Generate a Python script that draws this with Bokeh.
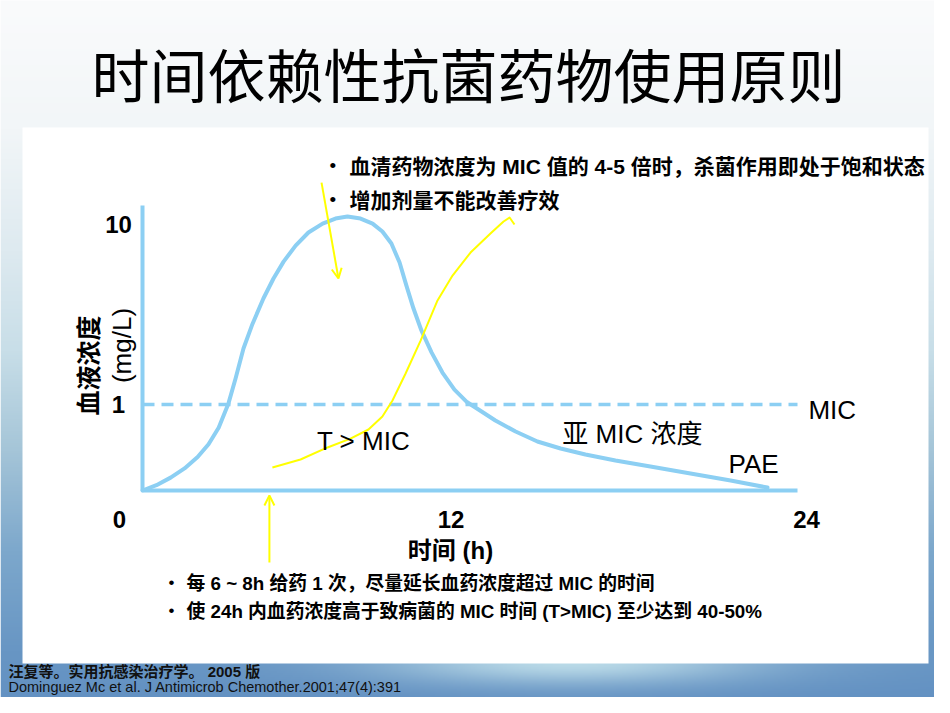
import numpy as np
from bokeh.plotting import figure
from bokeh.models import Range1d, ColumnDataSource, Arrow, OpenHead
from bokeh.core.properties import value
from bokeh.embed import file_html
from bokeh.resources import INLINE

# ---------------- data ----------------
title_text = "时间依赖性抗菌药物使用原则"
top_notes = ["血清药物浓度为 MIC 值的 4-5 倍时，杀菌作用即处于饱和状态",
             "增加剂量不能改善疗效"]
bottom_notes = ["每 6 ~ 8h 给药 1 次，尽量延长血药浓度超过 MIC 的时间",
                "使 24h 内血药浓度高于致病菌的 MIC 时间 (T>MIC)  至少达到 40-50%"]
refs = ["汪复等。实用抗感染治疗学。 2005 版",
        "Dominguez Mc et al. J Antimicrob Chemother.2001;47(4):391"]

# blood concentration curve (hours, mg/L)
hours = [0, 0.51, 1.03, 1.54, 2.02, 2.42, 2.79, 3.15, 3.41, 3.70, 4.03, 4.43,
         4.80, 5.17, 5.61, 6.08, 6.60, 7.07, 7.51, 7.99, 8.43, 8.79, 9.12, 9.42,
         9.67, 9.93, 10.22, 10.59, 10.99, 11.43, 11.87, 12.31, 12.93, 13.67,
         14.47, 15.32, 16.23, 17.33, 18.61, 20.08, 21.55, 22.90]
conc = [0, 0.04, 0.10, 0.18, 0.29, 0.43, 0.64, 1.02, 1.52, 2.32, 3.18, 4.33,
        5.47, 6.63, 7.93, 9.16, 10.10, 10.67, 10.90, 10.67, 10.10, 9.26, 8.11, 6.56,
        5.04, 3.84, 2.93, 2.20, 1.66, 1.28, 1.05, 0.915, 0.743, 0.588,
        0.462, 0.381, 0.316, 0.255, 0.198, 0.135, 0.077, 0.022]

mic_value = 1
x_axis_end = 24
y_axis_top = 12.3
x_ticks = [0, 12, 24]
x_tick_labels = ["0", "12", "24"]
y_ticks = [1, 10]
y_tick_labels = ["1", "10"]
x_title = "时间 (h)"
y_title = "血液浓度"
y_unit = "(mg/L)"

region_labels = ["T > MIC", "亚 MIC 浓度", "PAE"]
region_hours = [8.10, 17.95, 22.39]
region_conc = [0.474, 0.562, 0.217]
mic_label = "MIC"
mic_label_hour = 24.4
mic_label_conc = 0.915

# yellow hand-drawn annotation (T > MIC curve)
yellow_hours = [4.76, 5.79, 6.78, 7.62, 8.28, 8.79, 9.16, 9.64, 10.19, 10.81,
                11.36, 12.02, 12.75, 13.23, 13.45, 13.63]
yellow_conc = [0.189, 0.265, 0.393, 0.498, 0.615, 0.803, 1.071, 1.637, 2.574,
               4.23, 5.66, 7.34, 9.06, 10.33, 10.79, 10.0]
peak_arrow_hours = [6.56, 7.18]
peak_arrow_conc = [15.7, 5.47]
dose_arrow_hour = 4.65

# ---------------- layout (page pixels, y measured downward) ----------------
W, H = 934, 697
X0, X24 = 142, 797          # t = 0 and t = 24 h
Y_ZERO, Y_TEN = 490, 224    # c = 0 and c = 10 mg/L
B = 0.715                   # schematic compression of the concentration axis


def u(c):
    return np.log10(1 + np.asarray(c, dtype=float) / B)


def up(Y):
    return H - Y


px_per_h = (X24 - X0) / 24
px_per_u = (Y_ZERO - Y_TEN) / float(u(10))

p = figure(width=W, height=H, x_range=Range1d(0, W), y_range=Range1d(0, H),
           output_backend="svg", toolbar_location=None, min_border=0,
           x_axis_location=None, y_axis_location=None)
p.grid.visible = False
p.outline_line_color = None
p.background_fill_color = "white"
p.border_fill_color = "white"

p.extra_x_ranges = {"t": Range1d((0 - X0) / px_per_h, (W - X0) / px_per_h)}
p.extra_y_ranges = {"c": Range1d((Y_ZERO - H) / px_per_u, (Y_ZERO - 0) / px_per_u)}

# ---------------- background ----------------
nw, nh = 467, 349
Xs = 2 * np.arange(nw) + 1
Ys = H - (2 * np.arange(nh) + 1)
stopsY = [0, 128, 250, 350, 450, 550, 650, 713]
R = [250, 242, 222, 200, 165, 125, 104, 98]
G = [251, 246, 234, 222, 197, 168, 150, 144]
Bc = [252, 248, 240, 232, 216, 204, 196, 194]
XX, YY = np.meshgrid(Xs, Ys)
r = np.interp(YY, stopsY, R)
g = np.interp(YY, stopsY, G)
b = np.interp(YY, stopsY, Bc)
w = np.exp(-((XX - 570) / 190.0) ** 2 - ((YY - 662) / 22.0) ** 2) * 0.85
r = r * (1 - w) + 200 * w
g = g * (1 - w) + 230 * w
b = b * (1 - w) + 238 * w
img = np.empty((nh, nw), dtype=np.uint32)
view = img.view(dtype=np.uint8).reshape((nh, nw, 4))
view[..., 0] = r.astype(np.uint8)
view[..., 1] = g.astype(np.uint8)
view[..., 2] = b.astype(np.uint8)
view[..., 3] = 255
p.image_rgba(image=[img], x=0, y=0, dw=2 * nw, dh=2 * nh)

# white panel
p.quad(left=22, right=928, bottom=up(663), top=up(127), fill_color="white", line_color=None)

# ---------------- title ----------------
p.text(x=[468], y=[up(72)], text=[title_text], text_align="center", text_baseline="middle",
       text_font=value("Noto Sans CJK SC"), text_font_size="58px", text_color="black")

MIX = value("Liberation Sans, Noto Sans CJK SC")

# top notes
p.text(x=[329] * 2, y=[up(165), up(199)], text=["•", "•"], text_align="left",
       text_baseline="middle", text_font=value("Liberation Sans"), text_font_size="19px",
       text_color="black")
p.text(x=[349] * 2, y=[up(166), up(200)], text=top_notes, text_align="left",
       text_baseline="middle", text_font=MIX, text_font_style="bold",
       text_font_size="21px", text_color="black")

# bottom notes
p.text(x=[168] * 2, y=[up(582), up(610)], text=["•", "•"], text_align="left",
       text_baseline="middle", text_font=value("Liberation Sans"), text_font_size="17px",
       text_color="black")
p.text(x=[186] * 2, y=[up(583), up(611)], text=bottom_notes, text_align="left",
       text_baseline="middle", text_font=MIX, text_font_style="bold",
       text_font_size="18.8px", text_color="black")

# references
p.text(x=[8], y=[up(671)], text=[refs[0]], text_align="left", text_baseline="middle",
       text_font=MIX, text_font_style="bold", text_font_size="15px", text_color="#111111")
p.text(x=[8], y=[up(686)], text=[refs[1]], text_align="left", text_baseline="middle",
       text_font=value("Liberation Sans"), text_font_size="14.5px", text_color="#111111")

# ---------------- chart ----------------
BLUE = "#8ccff3"
YEL = "#ffff00"

# axes
p.line(x=[0, 0], y=[float(u(y_axis_top)), 0.0], x_range_name="t", y_range_name="c",
       line_color=BLUE, line_width=4)
p.line(x=[0, x_axis_end], y=[0.0, 0.0], x_range_name="t", y_range_name="c",
       line_color=BLUE, line_width=4)
# MIC line
p.line(x=[0, x_axis_end], y=[float(u(mic_value))] * 2, x_range_name="t", y_range_name="c",
       line_color=BLUE, line_width=3.5, line_dash="12 7")

# concentration curve
src = ColumnDataSource(dict(t=hours, y=u(conc)))
p.line(x="t", y="y", source=src, x_range_name="t", y_range_name="c",
       line_color=BLUE, line_width=4, line_join="round", line_cap="round")

# yellow annotations
p.line(x=yellow_hours, y=u(yellow_conc), x_range_name="t", y_range_name="c",
       line_color=YEL, line_width=2, line_join="round")
ua = u(peak_arrow_conc)
p.add_layout(Arrow(end=OpenHead(size=10, line_color=YEL, line_width=2),
                   x_start=peak_arrow_hours[0], y_start=float(ua[0]),
                   x_end=peak_arrow_hours[1], y_end=float(ua[1]),
                   line_color=YEL, line_width=2, x_range_name="t", y_range_name="c"))
p.add_layout(Arrow(end=OpenHead(size=10, line_color=YEL, line_width=2),
                   x_start=dose_arrow_hour, y_start=up(562),
                   x_end=dose_arrow_hour, y_end=up(495),
                   line_color=YEL, line_width=2, x_range_name="t"))

# tick labels
p.text(x=x_ticks, y=[up(519)] * 3, text=x_tick_labels, x_offset=[-23, -19, 9],
       x_range_name="t", text_align="center", text_baseline="middle",
       text_font=value("Liberation Sans"), text_font_style="bold", text_font_size="24px",
       text_color="black")
p.text(x=[118] * 2, y=u(y_ticks), text=y_tick_labels, y_range_name="c",
       text_align="center", text_baseline="middle",
       text_font=value("Liberation Sans"), text_font_style="bold", text_font_size="24px",
       text_color="black")

# axis titles
p.text(x=[450], y=[up(550)], text=[x_title], text_align="center", text_baseline="middle",
       text_font=MIX, text_font_style="bold", text_font_size="24px", text_color="black")
p.text(x=[86], y=[up(365)], text=[y_title], angle=np.pi / 2, text_align="center",
       text_baseline="middle", text_font=value("Noto Sans CJK SC"), text_font_style="bold",
       text_font_size="25px", text_color="black")
p.text(x=[121], y=[up(345)], text=[y_unit], angle=np.pi / 2, text_align="center",
       text_baseline="middle", text_font=value("Liberation Sans"),
       text_font_size="26px", text_color="black")

# region labels
p.text(x=region_hours, y=u(region_conc), text=region_labels, x_range_name="t",
       y_range_name="c", text_align="center", text_baseline="middle",
       text_font=MIX, text_font_size="26px", text_color="black")
p.text(x=[mic_label_hour], y=[float(u(mic_label_conc))], text=[mic_label], x_range_name="t",
       y_range_name="c", text_align="left", text_baseline="middle",
       text_font=value("Liberation Sans"), text_font_size="26px", text_color="black")

open("out.html", "w").write(file_html(p, INLINE))
